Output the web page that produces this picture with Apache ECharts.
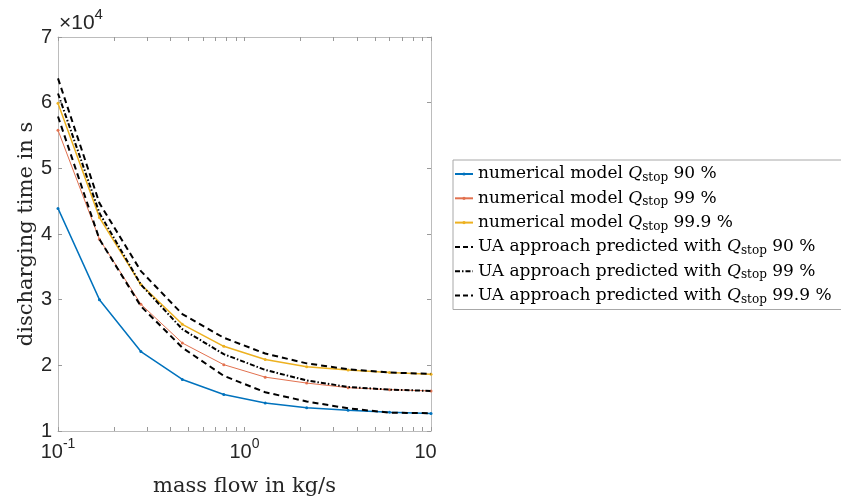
<!DOCTYPE html>
<html><head><meta charset="utf-8">
<script src="https://cdn.jsdelivr.net/npm/echarts@6/dist/echarts.min.js"></script>
<style>html,body{margin:0;padding:0;background:#fff}#c{width:841px;height:502px}</style>
</head><body><div id="c"></div><script>
// mass flow in kg/s (logarithmically spaced samples)
const massFlow = [0.1, 0.1668, 0.2783, 0.4642, 0.7743, 1.2915, 2.1544, 3.5938, 5.9948, 10];
// discharging time in s
const numQ90  = [43900, 30000, 22100, 17850, 15550, 14250, 13550, 13150, 12850, 12680];
const numQ99  = [55800, 39200, 29300, 23400, 20100, 18200, 17300, 16600, 16300, 16100];
const numQ999 = [59900, 42500, 32300, 26250, 22900, 20900, 19800, 19300, 18900, 18660];
const uaQ90   = [57900, 39200, 29000, 22700, 18400, 15900, 14500, 13450, 12800, 12700];
const uaQ99   = [61400, 43200, 32300, 25500, 21700, 19300, 17700, 16700, 16300, 16100];
const uaQ999  = [63700, 44700, 34350, 27800, 24200, 21800, 20300, 19400, 18900, 18700];
const seriesNames = [
  'numerical model Q_stop 90 %',
  'numerical model Q_stop 99 %',
  'numerical model Q_stop 99.9 %',
  'UA approach predicted with Q_stop 90 %',
  'UA approach predicted with Q_stop 99 %',
  'UA approach predicted with Q_stop 99.9 %'
];
const xTickValues = [0.1,0.2,0.3,0.4,0.5,0.6,0.7,0.8,0.9,1,2,3,4,5,6,7,8,9,10];
const xLabelValues = [0.1, 1, 10];
const xLabelExponents = {'0.1': '-1', '1': '0', '10': ''};
const yScaleText = ['×10', '4'];

const pairs = a => massFlow.map((x, i) => [x, a[i]]);
const serif = 'DejaVu Serif';
const sans = 'Liberation Sans';
const axisGray = '#bcbcbc';
const textCol = '#262626';
const dashUA = [6, 4];
const dashDotUA = [5, 2, 1.5, 2];

function numSeries(name, data, color, width) {
  return { name, type: 'line', data: pairs(data), symbol: 'circle', symbolSize: 3,
    itemStyle: { color }, lineStyle: { color, width }, z: 2 };
}
function uaSeries(name, data, dash) {
  return { name, type: 'line', data: pairs(data), symbol: 'none', showSymbol: false,
    itemStyle: { color: '#000' }, lineStyle: { color: '#000', width: 2, type: dash }, z: 3 };
}

const xAxisBase = {
  type: 'log', logBase: 10, min: 0.1, max: 10,
  axisLine: { show: true, lineStyle: { color: axisGray, width: 1 } },
  axisTick: { show: true, inside: true, length: 4, customValues: xTickValues, lineStyle: { color: '#9a9a9a' } },
  splitLine: { show: false }, minorTick: { show: false }
};
const yAxisBase = {
  type: 'value', min: 10000, max: 70000, interval: 10000,
  axisLine: { show: true, lineStyle: { color: axisGray, width: 1 } },
  axisTick: { show: true, inside: true, length: 4, lineStyle: { color: '#9a9a9a' } },
  splitLine: { show: false }
};

const legendData = seriesNames.map((n, i) => i < 3
  ? { name: n }
  : { name: n, itemStyle: { opacity: 0 }, lineStyle: { color: '#000', width: 2, type: i === 4 ? dashDotUA : [5, 3] } });

const chart = echarts.init(document.getElementById('c'), null, { renderer: 'canvas' });
chart.setOption({
  animation: false,
  backgroundColor: '#fff',
  grid: { left: 58, right: 410, top: 37, bottom: 70, containLabel: false },
  xAxis: [
    Object.assign({}, xAxisBase, {
      position: 'bottom',
      axisLabel: {
        customValues: xLabelValues, margin: 6, color: textCol,
        formatter: v => {
          const e = xLabelExponents[String(+v.toPrecision(3))];
          return e ? '{b|10}{s|' + e + '}' : '{b|10}{p| }';
        },
        rich: {
          b: { fontFamily: sans, fontSize: 20, lineHeight: 30, color: textCol },
          s: { fontFamily: sans, fontSize: 14, lineHeight: 14, verticalAlign: 'top', color: textCol },
          p: { fontFamily: sans, fontSize: 14, width: 11 }
        }
      },
      name: 'mass flow in kg/s', nameLocation: 'middle', nameGap: 45,
      nameTextStyle: { fontFamily: serif, fontSize: 21, color: textCol }
    }),
    Object.assign({}, xAxisBase, { position: 'top', axisLabel: { show: false } })
  ],
  yAxis: [
    Object.assign({}, yAxisBase, {
      position: 'left',
      axisLabel: { margin: 6, fontFamily: sans, fontSize: 20, color: textCol, formatter: v => String(v / 10000) },
      name: 'discharging time in s', nameLocation: 'middle', nameGap: 21,
      nameTextStyle: { fontFamily: serif, fontSize: 21, color: textCol }
    }),
    Object.assign({}, yAxisBase, { position: 'right', axisLabel: { show: false } })
  ],
  legend: {
    orient: 'vertical', left: 453, top: 160,
    padding: [4, 60, 4, 1],
    itemWidth: 18, itemHeight: 4, itemGap: 4.3,
    borderColor: '#a8a8a8', borderWidth: 1, backgroundColor: '#fff',
    data: legendData,
    formatter: n => n.replace('Q_stop', '{q|Q}{s|stop}'),
    textStyle: {
      fontFamily: serif, fontSize: 17, lineHeight: 20, color: '#000',
      rich: {
        q: { fontFamily: serif, fontSize: 17, lineHeight: 20, fontStyle: 'italic', color: '#000' },
        s: { fontFamily: serif, fontSize: 12, lineHeight: 12, verticalAlign: 'bottom', color: '#000' }
      }
    }
  },
  graphic: [{
    type: 'text', left: 59, top: 7,
    style: {
      text: '{a|' + yScaleText[0] + '}{e|' + yScaleText[1] + '}',
      rich: {
        a: { fontFamily: sans, fontSize: 21, lineHeight: 27, fill: textCol, verticalAlign: 'bottom' },
        e: { fontFamily: sans, fontSize: 15, lineHeight: 15, fill: textCol, verticalAlign: 'top' }
      }
    }
  }],
  series: [
    numSeries(seriesNames[0], numQ90, '#0072BD', 1.5),
    numSeries(seriesNames[1], numQ99, '#E2714F', 1),
    numSeries(seriesNames[2], numQ999, '#EDB120', 1.5),
    uaSeries(seriesNames[3], uaQ90, dashUA),
    uaSeries(seriesNames[4], uaQ99, dashDotUA),
    uaSeries(seriesNames[5], uaQ999, dashUA)
  ]
});
</script></body></html>
